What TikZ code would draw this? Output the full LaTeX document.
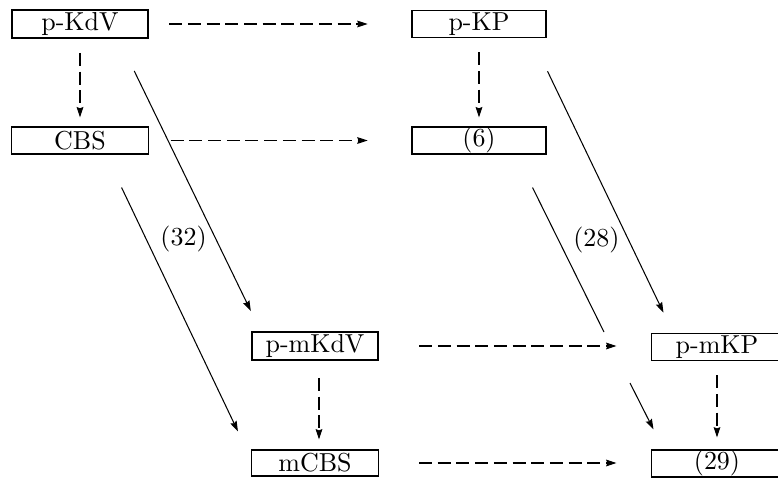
\documentclass[tikz,border=0pt]{standalone}
\usepackage{tikz}
\usetikzlibrary{calc,positioning,arrows.meta}

\begin{document}
\begin{tikzpicture}[
    x=0.385pt, y=-0.385pt,
    box/.style={draw, inner sep=0pt, minimum height=10.6pt},
    boldbox/.style={box, line width=0.9pt},
    dsh/.style={dash pattern=on 5pt off 2.2pt, -{Stealth[length=4pt, width=2.6pt, inset=0.5pt]}},
    sld/.style={-{Stealth[length=4pt, width=2.6pt, inset=0.5pt]}},
  ]
    \useasboundingbox (0,0) rectangle (778,478);

    % Left column
    \node[boldbox, minimum width=52.4pt] (pkdv) at (80,24) {p-KdV};
    \node[box, minimum width=52.4pt, minimum height=10.4pt] (cbs) at (80,140.5) {CBS};

    % Right column
    \node[box, minimum width=51.6pt] (pkp) at (479,24) {p-KP};
    \node[box, minimum width=51.6pt, minimum height=10.4pt] (six) at (479,140.5) {(6)};

    % Middle column
    \node[boldbox, minimum width=48.5pt] (pmkdv) at (315,346) {p-mKdV};
    \node[box, minimum width=48.9pt, minimum height=10pt] (mcbs) at (315,463) {mCBS};

    % Far right
    \node[box, minimum width=50.8pt] (pmkp) at (717,347) {p-mKP};
    \node[box, minimum width=50.8pt, minimum height=10.4pt] (p29) at (717,463.5) {(29)};

    % Dashed arrows
    \draw[dsh, shorten <=7.7pt, shorten >=16.9pt] (pkdv.east) -- (pkp.west);
    \draw[dsh, shorten <=8.5pt, shorten >=16.9pt] (cbs.east) -- (six.west);
    \draw[dsh, shorten <=15.4pt, shorten >=13.1pt] (pmkdv.east) -- (pmkp.west |- pmkdv.east);
    \draw[dsh, shorten <=15.4pt, shorten >=13.1pt] (mcbs.east) -- (p29.west |- mcbs.east);
    \draw[dsh, shorten <=5.4pt, shorten >=3.5pt] (pkdv.south) -- (cbs.north);
    \draw[dsh, shorten <=5.4pt, shorten >=3.5pt] (pkp.south) -- (six.north);
    \draw[dsh] ($(pmkdv.south)+(4,17)$) -- ($(mcbs.north)+(4,-10)$);
    \draw[dsh, shorten <=5.4pt, shorten >=4.6pt] (pmkp.south) -- (p29.north);

    % Solid arrows
    \draw[sld] ($(pkdv.south east)+(-15,32)$) -- node[pos=0.7, left=0pt] {(32)} ($(pmkdv.north west)+(0,-20)$);
    \draw[sld] ($(cbs.south east)+(-27,33)$) -- ($(mcbs.north west)+(-13,-18)$);
    \draw[sld] ($(pkp.south east)+(1,33)$) -- node[pos=0.7, left=0pt] {(28)} ($(pmkp.north west)+(13,-20)$);

    % (6) -> (29), broken line
    \coordinate (brk1) at (604,332);
    \coordinate (brk2) at (630,383);
    \draw ($(six.south east)+(-14,33)$) -- (brk1);
    \draw[sld] (brk2) -- ($(p29.north west)+(3,-20)$);
  \end{tikzpicture}
\end{document}
